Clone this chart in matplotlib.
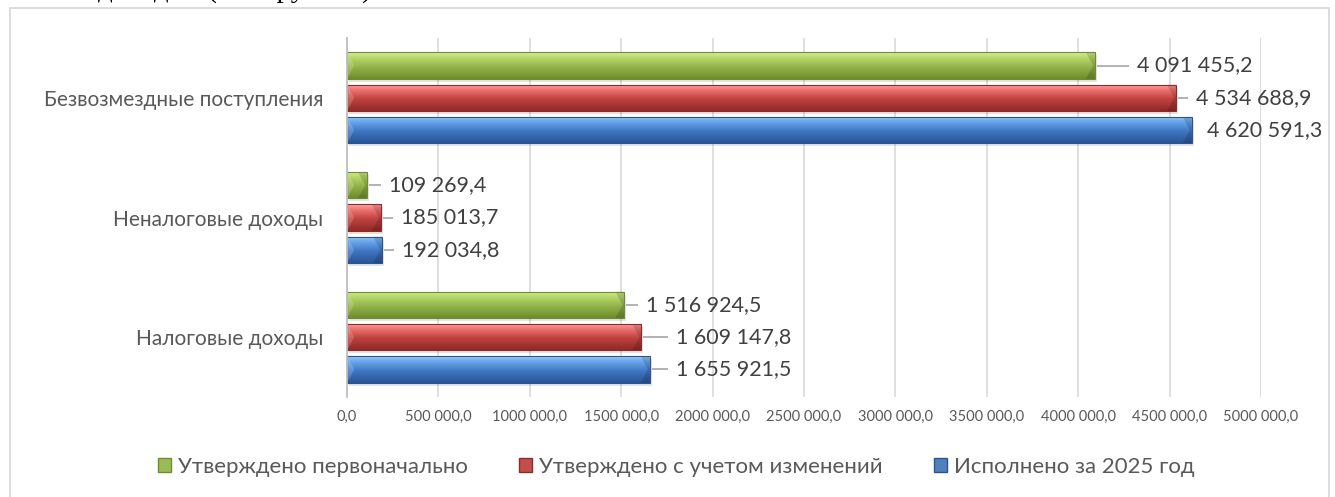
import numpy as np
import matplotlib as mpl
mpl.use('Agg')
import matplotlib.pyplot as plt
from matplotlib.colors import LinearSegmentedColormap
from matplotlib.patches import Rectangle, Polygon

#
#--- data
#
categories = ['Налоговые доходы', 'Неналоговые доходы', 'Безвозмездные поступления']
series     = ['Утверждено первоначально', 'Утверждено с учетом изменений', 'Исполнено за 2025 год']
initial    = [1516924.5, 109269.4, 4091455.2]
revised    = [1609147.8, 185013.7, 4534688.9]
executed   = [1655921.5, 192034.8, 4620591.3]
tick_vals  = [0, 500000, 1000000, 1500000, 2000000, 2500000, 3000000, 3500000, 4000000, 4500000, 5000000]
tick_text  = ['0,0', '500 000,0', '1000 000,0', '1500 000,0', '2000 000,0', '2500 000,0',
              '3000 000,0', '3500 000,0', '4000 000,0', '4500 000,0', '5000 000,0']

#
#--- styles: bottom, middle, upper, top-edge shades
#
shades = [['#6f8c2e', '#93b44a', '#b7d86a', '#d7eea0'],
          ['#8e2a28', '#c0423f', '#ee7472', '#ffaaa8'],
          ['#2a5594', '#3f77c4', '#69a6ec', '#9fcaf7']]
legend_col = ['#9bbb59', '#c0504d', '#4f81bd']
gap_px = [[22, 22, 42], [35, 20, 20], [26, 20, 15]]   # label gap per series / category

W, H, DPI = 1335, 497, 100


def fmt(v):
    s = '{:,.1f}'.format(v)
    return s.replace(',', ' ').replace('.', ',')


def px(x, y):
    return x / W, 1 - y / H


fig = plt.figure(figsize=(W / DPI, H / DPI), dpi=DPI)
fig.patch.set_facecolor('white')

#
#--- outer chart frame and clipped caption above it
#
fig.add_artist(Rectangle(px(10, 540), (1329 - 10) / W, (540 - 8) / H, transform=fig.transFigure,
                         fill=False, edgecolor='#d9d9d9', lw=1.3))
fig.text(372 / W, 1 + 3.5 / H, 'Исполнение бюджета по доходам (тыс. рублей)', ha='right',
         va='baseline', fontsize=21, family='Liberation Serif', color='black')

left, right, top, bottom = 347, 1261, 38, 397
ax = fig.add_axes([left / W, 1 - bottom / H, (right - left) / W, (bottom - top) / H])

pos  = np.arange(len(categories))
bh   = 0.222
step = 0.27
offs = [step, 0.0, -step]
data = [initial, revised, executed]

ax.set_xlim(0, 5000000)
ax.set_ylim(-0.5, 2.5)

unit_x = 5000000 / (right - left)
unit_y = 3.0 / (bottom - top)

for k in range(3):
    cmap = LinearSegmentedColormap.from_list('c%d' % k,
                                             [(0, shades[k][0]), (0.45, shades[k][1]),
                                              (0.8, shades[k][2]), (1.0, shades[k][3])])
    bars = ax.barh(pos + offs[k], data[k], height=bh, color='none', edgecolor='none', zorder=3)
    for i, b in enumerate(bars):
        x0, y0, w, h = b.get_x(), b.get_y(), b.get_width(), b.get_height()
        # soft shadow
        ax.add_patch(Rectangle((x0 + 2 * unit_x, y0 - 3 * unit_y), w, h, facecolor='black',
                               alpha=0.10, edgecolor='none', zorder=2))
        grad = np.linspace(0, 1, 80).reshape(-1, 1)
        im = ax.imshow(grad, cmap=cmap, extent=[x0, x0 + w, y0, y0 + h], origin='lower',
                       aspect='auto', zorder=3, interpolation='bilinear')
        im.set_clip_path(b)
        # bevel ends
        bw = 9 * unit_x
        yc = y0 + h / 2
        ax.add_patch(Polygon([(x0 + w - bw, y0 + h), (x0 + w, y0 + h), (x0 + w, y0), (x0 + w - bw, y0),
                              (x0 + w - bw * 0.2, yc)], closed=True, facecolor='black', alpha=0.14,
                             edgecolor='none', zorder=4))
        ax.add_patch(Polygon([(x0, y0 + h), (x0 + bw * 0.8, yc), (x0, y0)], closed=True,
                             facecolor='white', alpha=0.18, edgecolor='none', zorder=4))
        ax.add_patch(Rectangle((x0, y0), w, h, fill=False, edgecolor=shades[k][0], lw=0.8, zorder=4))
        # leader line + value label
        g = gap_px[k][i]
        if g > 16:
            ax.plot([x0 + w + 2 * unit_x, x0 + w + (g - 8) * unit_x], [yc, yc], color='#a6a6a6',
                    lw=1.2, zorder=4, solid_capstyle='butt')
        ax.text(x0 + w + g * unit_x, yc, fmt(data[k][i]), ha='left', va='center',
                fontsize=15.5, family='Lato', color='#404040', zorder=5)

ax.set_yticks(pos)
ax.set_yticklabels(categories, fontsize=15, family='Lato', color='#595959')
ax.set_xticks(tick_vals)
ax.set_xticklabels(tick_text, fontsize=10.5, family='Lato', color='#595959')
ax.tick_params(axis='both', length=0)
ax.tick_params(axis='y', pad=17)
ax.tick_params(axis='x', pad=9)

ax.grid(axis='x', color='#d9d9d9', lw=1.2, zorder=0)
ax.set_axisbelow(True)
for s in ['top', 'right', 'bottom']:
    ax.spines[s].set_visible(False)
ax.spines['left'].set_color('#bfbfbf')
ax.spines['left'].set_linewidth(1.3)
ax.spines['left'].set_zorder(5)

#
#--- legend
#
handles = [Rectangle((0, 0), 1, 1, facecolor=legend_col[k], edgecolor=shades[k][0]) for k in range(3)]
fig.legend(handles, series, loc='center', bbox_to_anchor=(px(676, 467)), ncol=3, frameon=False,
           prop={'family': 'Lato', 'size': 16}, handlelength=0.6, handleheight=0.6,
           handletextpad=0.3, columnspacing=2.3, labelcolor='#595959')

fig.savefig('out.png', dpi=DPI)
